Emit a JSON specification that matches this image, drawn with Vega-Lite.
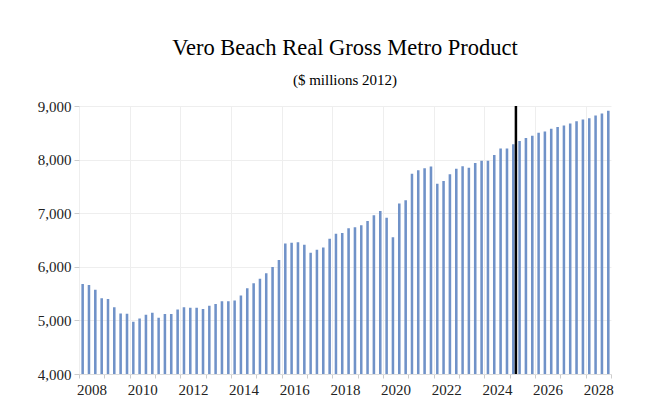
{
  "$schema": "https://vega.github.io/schema/vega-lite/v6.json",
  "autosize": "none",
  "width": 532,
  "height": 268,
  "padding": {"left": 79, "top": 106, "right": 47, "bottom": 46},
  "background": "white",
  "title": {
    "text": "Vero Beach Real Gross Metro Product",
    "subtitle": "($ millions 2012)",
    "font": "Liberation Serif",
    "fontSize": 22.5,
    "fontWeight": "normal",
    "color": "black",
    "subtitleFont": "Liberation Serif",
    "subtitleFontSize": 15,
    "subtitleColor": "black",
    "subtitlePadding": 14,
    "anchor": "middle",
    "offset": 11
  },
  "config": {
    "view": {"stroke": null},
    "axis": {
      "labelFont": "Liberation Serif",
      "labelFontSize": 15,
      "labelColor": "#222222",
      "gridColor": "#eeeeee",
      "tickColor": "#cccccc"
    }
  },
  "layer": [
    {
      "data": {
        "values": [
          {"date": "2008-01-01", "gmp": 5680}, {"date": "2008-04-01", "gmp": 5660}, {"date": "2008-07-01", "gmp": 5570}, {"date": "2008-10-01", "gmp": 5415},
          {"date": "2009-01-01", "gmp": 5400}, {"date": "2009-04-01", "gmp": 5245}, {"date": "2009-07-01", "gmp": 5130}, {"date": "2009-10-01", "gmp": 5125},
          {"date": "2010-01-01", "gmp": 4975}, {"date": "2010-04-01", "gmp": 5035}, {"date": "2010-07-01", "gmp": 5105}, {"date": "2010-10-01", "gmp": 5145},
          {"date": "2011-01-01", "gmp": 5050}, {"date": "2011-04-01", "gmp": 5120}, {"date": "2011-07-01", "gmp": 5120}, {"date": "2011-10-01", "gmp": 5205},
          {"date": "2012-01-01", "gmp": 5245}, {"date": "2012-04-01", "gmp": 5235}, {"date": "2012-07-01", "gmp": 5235}, {"date": "2012-10-01", "gmp": 5215},
          {"date": "2013-01-01", "gmp": 5275}, {"date": "2013-04-01", "gmp": 5305}, {"date": "2013-07-01", "gmp": 5355}, {"date": "2013-10-01", "gmp": 5355},
          {"date": "2014-01-01", "gmp": 5370}, {"date": "2014-04-01", "gmp": 5465}, {"date": "2014-07-01", "gmp": 5600}, {"date": "2014-10-01", "gmp": 5695},
          {"date": "2015-01-01", "gmp": 5775}, {"date": "2015-04-01", "gmp": 5880}, {"date": "2015-07-01", "gmp": 5995}, {"date": "2015-10-01", "gmp": 6125},
          {"date": "2016-01-01", "gmp": 6435}, {"date": "2016-04-01", "gmp": 6450}, {"date": "2016-07-01", "gmp": 6460}, {"date": "2016-10-01", "gmp": 6410},
          {"date": "2017-01-01", "gmp": 6260}, {"date": "2017-04-01", "gmp": 6320}, {"date": "2017-07-01", "gmp": 6360}, {"date": "2017-10-01", "gmp": 6525},
          {"date": "2018-01-01", "gmp": 6615}, {"date": "2018-04-01", "gmp": 6630}, {"date": "2018-07-01", "gmp": 6720}, {"date": "2018-10-01", "gmp": 6740},
          {"date": "2019-01-01", "gmp": 6775}, {"date": "2019-04-01", "gmp": 6855}, {"date": "2019-07-01", "gmp": 6960}, {"date": "2019-10-01", "gmp": 7040},
          {"date": "2020-01-01", "gmp": 6915}, {"date": "2020-04-01", "gmp": 6550}, {"date": "2020-07-01", "gmp": 7180}, {"date": "2020-10-01", "gmp": 7240},
          {"date": "2021-01-01", "gmp": 7735}, {"date": "2021-04-01", "gmp": 7800}, {"date": "2021-07-01", "gmp": 7840}, {"date": "2021-10-01", "gmp": 7870},
          {"date": "2022-01-01", "gmp": 7550}, {"date": "2022-04-01", "gmp": 7600}, {"date": "2022-07-01", "gmp": 7725}, {"date": "2022-10-01", "gmp": 7830},
          {"date": "2023-01-01", "gmp": 7875}, {"date": "2023-04-01", "gmp": 7850}, {"date": "2023-07-01", "gmp": 7935}, {"date": "2023-10-01", "gmp": 7980},
          {"date": "2024-01-01", "gmp": 7980}, {"date": "2024-04-01", "gmp": 8085}, {"date": "2024-07-01", "gmp": 8205}, {"date": "2024-10-01", "gmp": 8205},
          {"date": "2025-01-01", "gmp": 8285}, {"date": "2025-04-01", "gmp": 8345}, {"date": "2025-07-01", "gmp": 8405}, {"date": "2025-10-01", "gmp": 8445},
          {"date": "2026-01-01", "gmp": 8500}, {"date": "2026-04-01", "gmp": 8525}, {"date": "2026-07-01", "gmp": 8575}, {"date": "2026-10-01", "gmp": 8610},
          {"date": "2027-01-01", "gmp": 8635}, {"date": "2027-04-01", "gmp": 8675}, {"date": "2027-07-01", "gmp": 8715}, {"date": "2027-10-01", "gmp": 8750},
          {"date": "2028-01-01", "gmp": 8770}, {"date": "2028-04-01", "gmp": 8825}, {"date": "2028-07-01", "gmp": 8860}, {"date": "2028-10-01", "gmp": 8910}
        ]
      },
      "mark": {"type": "bar", "color": "#7092c8", "width": {"band": 0.56}, "clip": true},
      "encoding": {
        "x": {
          "field": "date",
          "timeUnit": "utcyearquarter",
          "type": "temporal",
          "title": null,
          "scale": {
            "type": "utc",
            "domain": [
              {"year": 2008, "month": 1, "date": 1, "utc": true},
              {"year": 2029, "month": 1, "date": 1, "utc": true}
            ]
          },
          "axis": {
            "tickCount": {"interval": "year", "step": 1},
            "labelExpr": "utcyear(datum.value) % 2 === 0 ? utcFormat(datum.value, '%Y') : ''",
            "labelOffset": 12.6,
            "labelOverlap": false,
            "labelFlush": false,
            "labelBound": false,
            "labelPadding": 4,
            "tickSize": 4,
            "domainColor": "#dddddd",
            "gridOpacity": {"condition": {"test": "utcyear(datum.value) % 2 === 0", "value": 1}, "value": 0}
          }
        },
        "y": {
          "field": "gmp",
          "type": "quantitative",
          "title": null,
          "scale": {"domain": [4000, 9000], "nice": false, "zero": false},
          "axis": {
            "values": [4000, 5000, 6000, 7000, 8000, 9000],
            "format": ",d",
            "domain": false,
            "tickSize": 5,
            "labelPadding": 3
          }
        }
      }
    },
    {
      "data": {"values": [{"date": "2025-04-01"}]},
      "mark": {"type": "rule", "color": "black", "strokeWidth": 2.5},
      "encoding": {
        "x": {"field": "date", "type": "temporal"}
      }
    }
  ]
}
